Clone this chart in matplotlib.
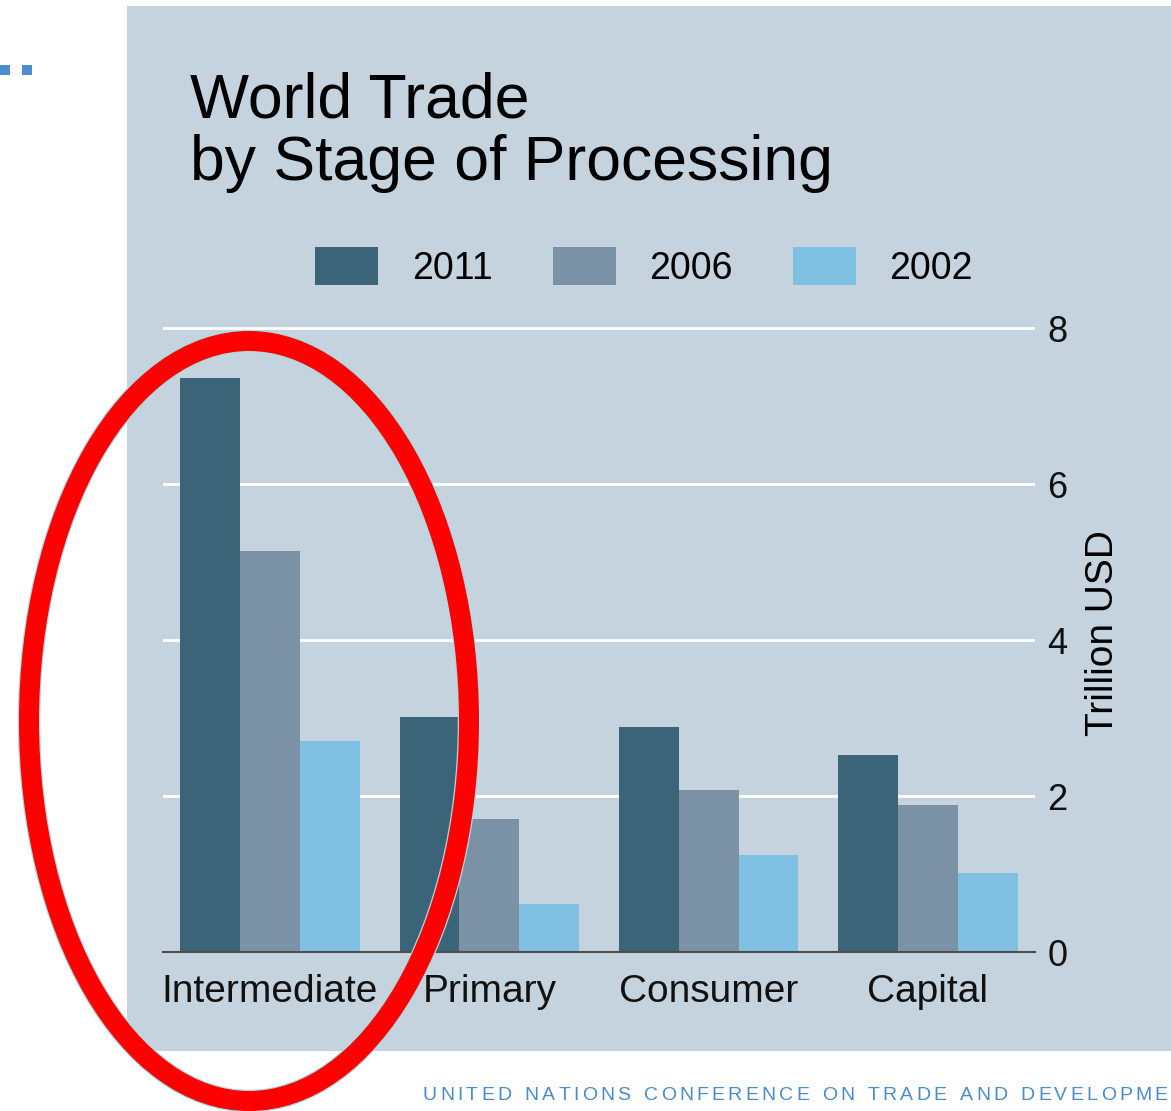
import matplotlib
matplotlib.use('Agg')
import matplotlib.pyplot as plt
from matplotlib.patches import Rectangle, Ellipse
from matplotlib.transforms import IdentityTransform
import numpy as np

# Data (trillion USD)
categories = ['Intermediate', 'Primary', 'Consumer', 'Capital']
years = ['2011', '2006', '2002']
values_2011 = [7.36, 3.01, 2.89, 2.53]
values_2006 = [5.14, 1.70, 2.08, 1.88]
values_2002 = [2.71, 0.61, 1.25, 1.01]
y_ticks = [0, 2, 4, 6, 8]

colors = ['#3C6479', '#7B92A6', '#80C0E3']
panel_color = '#C5D3DF'

W, H, DPI = 1171, 1111, 100
plt.rcParams['font.family'] = ['Liberation Sans', 'DejaVu Sans']
fig = plt.figure(figsize=(W / DPI, H / DPI), dpi=DPI)
fig.patch.set_facecolor('white')


def fx(px):
    return px / W


def fy(py):
    return 1 - py / H


# Slide panel behind the chart
fig.add_artist(Rectangle((fx(127), fy(1051)), 1.0, fy(6) - fy(1051),
                         transform=fig.transFigure, facecolor=panel_color,
                         edgecolor='none', zorder=-2))

# Small decorative squares at the top-left
for x0 in (0, 22):
    fig.add_artist(Rectangle((fx(x0), fy(75)), fx(10), fy(65) - fy(75),
                             transform=fig.transFigure, facecolor='#4D8ED0',
                             edgecolor='none', zorder=-1))

ax = fig.add_axes([fx(163), fy(952), fx(1035) - fx(163), fy(320.2) - fy(952)])
ax.set_facecolor('none')

x = np.arange(len(categories))
width = 0.273
bars = []
for i, (vals, lab) in enumerate(zip([values_2011, values_2006, values_2002], years)):
    b = ax.bar(x + (i - 1) * width, vals, width, color=colors[i], label=lab,
               zorder=3, linewidth=0)
    bars.append(b)

ax.set_xlim(-0.488, 3.488)
ax.set_ylim(0, 8.1)
ax.set_yticks(y_ticks)
ax.set_yticklabels([str(v) for v in y_ticks])
ax.set_xticks(x)
ax.set_xticklabels(categories)
ax.yaxis.grid(True, color='white', linewidth=2.0)
ax.set_axisbelow(True)

for side in ('top', 'left', 'right'):
    ax.spines[side].set_visible(False)
ax.spines['bottom'].set_color('#4D4D4D')
ax.spines['bottom'].set_linewidth(1.5)
ax.spines['bottom'].set_zorder(4)

ax.tick_params(axis='y', length=0, left=False, right=False,
               labelleft=False, labelright=True, pad=9, labelsize=26,
               labelcolor='#111111')
ax.tick_params(axis='x', length=0, pad=16, labelsize=28, labelcolor='#111111')

# Title
fig.text(fx(190), fy(117), 'World Trade', fontsize=45, ha='left', va='baseline')
fig.text(fx(190), fy(180), 'by Stage of Processing', fontsize=45, ha='left',
         va='baseline')

# Legend
fig.legend([b[0] for b in bars], years, loc='center left',
           bbox_to_anchor=(fx(315), fy(267)), ncol=3, frameon=False,
           fontsize=27, handlelength=1.68, handleheight=1.15,
           handletextpad=0.9, columnspacing=1.6, borderpad=0,
           borderaxespad=0)

# Y-axis title on the right
fig.text(fx(1103), fy(633), 'Trillion USD', rotation=90, fontsize=28,
         ha='center', va='center')

# Red highlight ellipse around the Intermediate group
cx, cy, ew, eh = 249, H - 721, 440, 760
fig.add_artist(Ellipse((cx, cy), ew, eh, transform=IdentityTransform(),
                       facecolor='none', edgecolor='#A8DCE0',
                       linewidth=16.2, zorder=9))
fig.add_artist(Ellipse((cx, cy), ew, eh, transform=IdentityTransform(),
                       facecolor='none', edgecolor='#FF0000',
                       linewidth=14.4, zorder=10))

# Footer with tracked capitals, stopping at the right edge of the slide
footer = 'UNITED NATIONS CONFERENCE ON TRADE AND DEVELOPMENT'
renderer = fig.canvas.get_renderer()
xpos = 423
for ch in footer:
    if ch == ' ':
        xpos += 10
        continue
    t = fig.text(fx(xpos), fy(1100), ch, fontsize=14, color='#4A8CCB',
                 ha='left', va='baseline')
    bb = t.get_window_extent(renderer)
    if bb.x1 > W - 1:
        t.remove()
        break
    xpos = bb.x1 + 3.2

fig.savefig('out.png', dpi=DPI)
